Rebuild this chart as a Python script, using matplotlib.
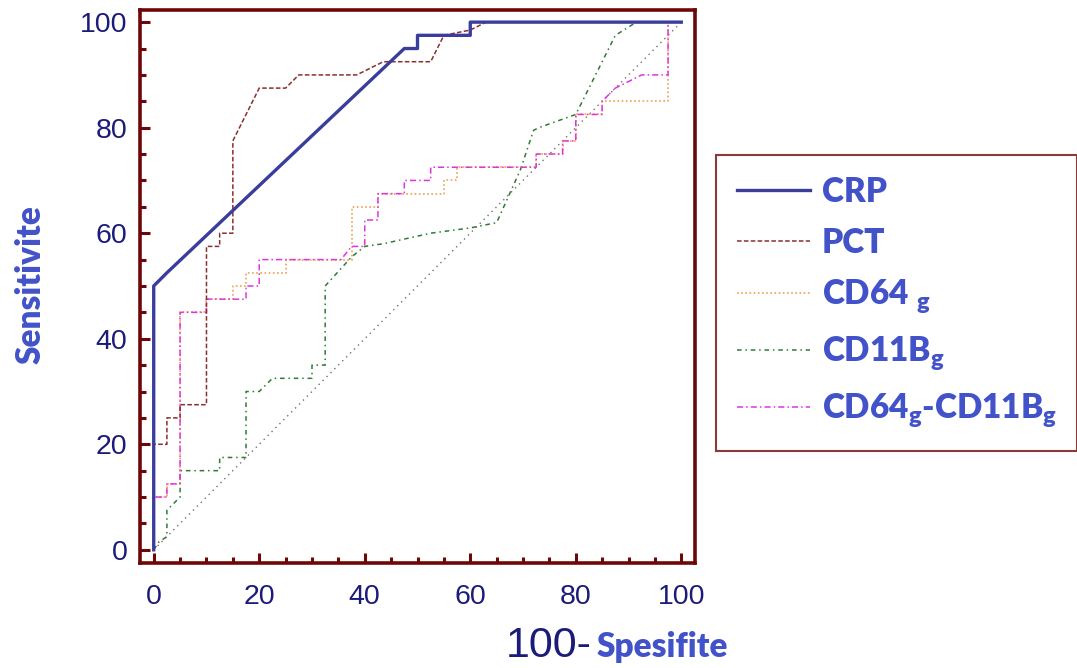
import matplotlib
matplotlib.use("Agg")
import matplotlib.pyplot as plt
from matplotlib.ticker import MultipleLocator

# ---- data ----
crp_x = [0, 0, 2.5, 47.5, 50, 50, 60, 60, 100]
crp_y = [0, 50, 52.5, 95, 95, 97.5, 97.5, 100, 100]

pct_x = [0, 0, 2.5, 2.5, 5, 5, 10, 10, 12.5, 12.5, 15, 15, 20, 25, 27.5, 38.5, 43.5, 52.5, 55, 60, 63, 100]
pct_y = [0, 20, 20, 25, 25, 27.5, 27.5, 57.5, 57.5, 60, 60, 77.5, 87.5, 87.5, 90, 90, 92.5, 92.5, 97.5, 98.5, 100, 100]

cd64_x = [0, 0, 2.5, 2.5, 5, 5, 10, 10, 15, 15, 17.5, 17.5, 25, 25, 37.5, 37.5, 42.5, 42.5, 55, 55, 57.5, 57.5,
          72.5, 72.5, 77.5, 77.5, 80, 80, 85, 85, 97.5, 97.5, 100]
cd64_y = [0, 10, 10, 12.5, 12.5, 45, 45, 47.5, 47.5, 50, 50, 52.5, 52.5, 55, 55, 65, 65, 67.5, 67.5, 70, 70, 72.5,
          72.5, 75, 75, 77.5, 77.5, 82.5, 82.5, 85, 85, 100, 100]

cd11_x = [0, 1, 2.5, 2.5, 5, 5, 12.5, 12.5, 17.5, 17.5, 20, 22.5, 30, 30, 32.5, 32.5, 37.5, 40, 43.5, 52.5,
          60, 65, 69.5, 72, 73, 80, 87.5, 91.5, 100]
cd11_y = [0, 1.5, 2.5, 7.5, 10, 15, 15, 17.5, 17.5, 30, 30, 32.5, 32.5, 35, 35, 50, 55.5, 57.5, 58, 60,
          61, 62, 72, 79.5, 80, 82.5, 97.5, 100, 100]

comb_x = [0, 0, 2.5, 2.5, 5, 5, 10, 10, 17.5, 17.5, 20, 20, 35.5, 37.5, 40, 40, 42.5, 42.5, 47.5, 47.5, 52.5, 52.5,
          72.5, 72.5, 77.5, 77.5, 80, 80, 85, 85, 87.5, 92.5, 97.5, 97.5, 100]
comb_y = [0, 10, 10, 12.5, 12.5, 45, 45, 47.5, 47.5, 50, 50, 55, 55, 57.5, 57.5, 62.5, 62.5, 67.5, 67.5, 70, 70, 72.5,
          72.5, 75, 75, 77.5, 77.5, 82.5, 82.5, 85, 87.5, 90, 90, 100, 100]

ref_x = [0, 100]
ref_y = [0, 100]

labels = ["CRP", "PCT", "CD64 ${}_{\\mathrm{g}}$", "CD11B${}_{\\mathrm{g}}$",
          "CD64${}_{\\mathrm{g}}$-CD11B${}_{\\mathrm{g}}$"]
tick_vals = [0, 20, 40, 60, 80, 100]

# ---- style ----
plt.rcParams['mathtext.fontset'] = 'custom'
plt.rcParams['mathtext.rm'] = 'Lato:heavy'
plt.rcParams['mathtext.it'] = 'Lato:heavy'
plt.rcParams['mathtext.bf'] = 'Lato:heavy'

maroon = '#6e0808'
navy = '#1b1b7a'
label_blue = '#4252c8'

fig = plt.figure(figsize=(10.77, 6.68), dpi=100)
ax = fig.add_axes([140/1077, 1-563/668, (695-140)/1077, (563-10)/668])

ax.plot(ref_x, ref_y, color='#707070', lw=1.0, ls=(0, (1, 3)), zorder=1)
h_cd11, = ax.plot(cd11_x, cd11_y, color='#2f7a35', lw=1.1, ls=(0, (3, 2.5, 1, 2.5)), zorder=2)
h_cd64, = ax.plot(cd64_x, cd64_y, color='#f2a050', lw=1.2, ls=(0, (1, 1.5)), zorder=3)
h_comb, = ax.plot(comb_x, comb_y, color='#e033e0', lw=1.1, ls=(0, (4, 2, 1, 2)), zorder=4)
h_pct, = ax.plot(pct_x, pct_y, color='#8a2f2f', lw=1.1, ls=(0, (3, 1.5)), zorder=5)
h_crp, = ax.plot(crp_x, crp_y, color='#3a3d9c', lw=2.4, zorder=6)

ax.set_xlim(-2.6, 102.6)
ax.set_ylim(-2.5, 102.3)
ax.set_xticks(tick_vals)
ax.set_yticks(tick_vals)
ax.xaxis.set_minor_locator(MultipleLocator(5))
ax.yaxis.set_minor_locator(MultipleLocator(5))
for s in ax.spines.values():
    s.set_color(maroon)
    s.set_linewidth(2.6)
ax.tick_params(which='major', direction='in', length=7, width=2.2, color=maroon,
               labelsize=20.5, labelcolor=navy)
ax.tick_params(which='minor', direction='in', length=4, width=2.2, color=maroon)
ax.tick_params(axis='x', which='major', pad=15)
ax.tick_params(axis='y', which='major', pad=9)
for lab in ax.get_xticklabels() + ax.get_yticklabels():
    lab.set_fontfamily('Liberation Sans')

# axis labels
fig.text(31/1077, 1-285/668, "Sensitivite", rotation=90, ha='center', va='center',
         fontsize=24, fontweight='heavy', color=label_blue, family='Lato')
fig.text(592/1077, 1-657/668, "100-", ha='right', va='baseline',
         fontsize=31, color=navy, family='Liberation Sans')
fig.text(597/1077, 1-657/668, "Spesifite", ha='left', va='baseline',
         fontsize=24, fontweight='heavy', color=label_blue, family='Lato')

# legend
leg = fig.legend([h_crp, h_pct, h_cd64, h_cd11, h_comb], labels,
                 loc='upper left', bbox_to_anchor=(716/1077, 1-155/668),
                 frameon=True, fancybox=False, edgecolor=maroon,
                 prop={'family': 'Lato', 'weight': 'heavy', 'size': 24},
                 handlelength=2.2, handletextpad=0.35, labelspacing=0.57,
                 borderpad=0.62, borderaxespad=0)
leg.get_frame().set_linewidth(1.5)
for t in leg.get_texts():
    t.set_color(label_blue)

fig.savefig("out.png", dpi=100, facecolor='white')
